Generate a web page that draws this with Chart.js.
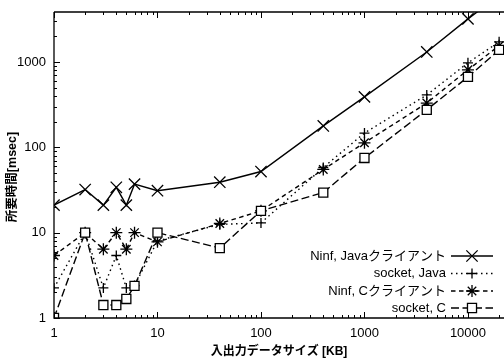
<!DOCTYPE html>
<html>
<head>
<meta charset="utf-8">
<script src="https://cdn.jsdelivr.net/npm/chart.js@4/dist/chart.umd.min.js"></script>
<style>
html,body{margin:0;padding:0;background:#fff;}
canvas{display:block;}
</style>
</head>
<body>
<canvas id="c" width="504" height="362"></canvas>
<script>
// ---- data ----
const sizesKB    = [1, 2, 3, 4, 5, 6, 10, 40, 100, 400, 1000, 4000, 10000, 20000];
const ninfJava   = [21, 32, 21, 34, 21, 37, 31, 39, 52, 178, 390, 1310, 3200, 6000];
const socketJava = [2.25, 10, 2.25, 5.4, 2.25, 2.4, 8, 12.5, 13, 58, 147, 411, 977, 1720];
const ninfC      = [5.4, 10, 6.4, 10, 6.4, 10, 7.8, 12.8, 18, 55, 113, 330, 810, 1550];
const socketC    = [1, 10, 1.42, 1.42, 1.67, 2.38, 10, 6.6, 18, 29.5, 75, 275, 668, 1385];
const seriesNames = ['Ninf, Javaクライアント', 'socket, Java', 'Ninf, Cクライアント', 'socket, C'];
const xTickValues = [1, 10, 100, 1000, 10000];
const yTickValues = [1, 10, 100, 1000];
const xTitle = '入出力データサイズ [KB]';
const yTitle = '所要時間[msec]';

const LATIN = '"Liberation Sans", "Noto Sans CJK JP", sans-serif';
const pts = arr => sizesKB.map((s, i) => ({x: s, y: arr[i]}));

function ds(label, arr, style, radius, dash, order, bg) {
  return {
    label, data: pts(arr), order,
    borderColor: '#000', borderWidth: 1.4, borderDash: dash,
    pointStyle: style, pointRadius: radius, pointHoverRadius: radius,
    pointBorderColor: '#000', pointBorderWidth: 1.3,
    pointBackgroundColor: bg || '#000',
    fill: false, tension: 0
  };
}

const datasets = [
  ds(seriesNames[0], ninfJava, 'crossRot', 8, [], 3),
  ds(seriesNames[1], socketJava, 'cross', 5, [1.5, 3.5], 2),
  ds(seriesNames[2], ninfC, 'star', 6, [4.5, 3.5], 1),
  ds(seriesNames[3], socketC, 'rect', 6.4, [8, 3.5], 0, '#fff')
];

const noPad = s => { s.paddingLeft = 0; s.paddingRight = 0; s.paddingTop = 0; s.paddingBottom = 0; };

const decor = {
  id: 'decor',
  afterDraw(chart) {
    const {ctx, chartArea: {left, right, top, bottom}, scales: {x, y}} = chart;
    ctx.save();
    ctx.strokeStyle = '#000';
    ctx.lineWidth = 1.3;
    ctx.setLineDash([]);
    ctx.beginPath();
    ctx.moveTo(left, top); ctx.lineTo(left, bottom); ctx.lineTo(right, bottom);
    ctx.moveTo(left, top); ctx.lineTo(right, top);
    ctx.stroke();
    ctx.lineWidth = 1;
    ctx.beginPath();
    for (let d = 0; d <= 5; d++) {
      for (let m = 1; m <= 9; m++) {
        const v = m * Math.pow(10, d);
        const len = m === 1 ? 6 : 3;
        if (v >= x.min && v <= x.max) {
          const px = Math.round(x.getPixelForValue(v)) + 0.5;
          ctx.moveTo(px, bottom); ctx.lineTo(px, bottom - len);
          ctx.moveTo(px, top); ctx.lineTo(px, top + len);
        }
        if (v >= y.min && v <= y.max) {
          const py = Math.round(y.getPixelForValue(v)) + 0.5;
          ctx.moveTo(left, py); ctx.lineTo(left + len, py);
        }
      }
    }
    ctx.stroke();

    // axis titles
    ctx.fillStyle = '#000';
    ctx.font = 'bold 12px ' + LATIN;
    ctx.textAlign = 'center';
    ctx.textBaseline = 'middle';
    ctx.fillText(xTitle, 279, 352);
    ctx.save();
    ctx.translate(13, 177);
    ctx.rotate(-Math.PI / 2);
    ctx.font = 'bold 12.5px ' + LATIN;
    ctx.fillText(yTitle, 0, 0);
    ctx.restore();

    // legend
    const rows = [256, 273.5, 291, 308];
    ctx.font = '13px ' + LATIN;
    ctx.textAlign = 'right';
    chart.data.datasets.forEach((d, i) => {
      const yy = rows[i];
      ctx.fillStyle = '#000';
      ctx.fillText(d.label, 446, yy);
      ctx.strokeStyle = '#000';
      ctx.lineWidth = d.borderWidth;
      ctx.setLineDash(d.borderDash);
      ctx.beginPath();
      ctx.moveTo(451, yy); ctx.lineTo(493, yy);
      ctx.stroke();
      ctx.setLineDash([]);
      ctx.lineWidth = d.pointBorderWidth;
      ctx.fillStyle = d.pointBackgroundColor;
      Chart.helpers.drawPoint(ctx, {pointStyle: d.pointStyle, radius: d.pointRadius, borderWidth: d.pointBorderWidth, rotation: 0}, 472, yy);
    });
    ctx.restore();
  }
};

new Chart(document.getElementById('c'), {
  type: 'line',
  data: {datasets},
  options: {
    responsive: false, animation: false, devicePixelRatio: 1,
    layout: {autoPadding: false, padding: {top: 12, right: 0, left: 0, bottom: 0}},
    plugins: {legend: {display: false}, tooltip: {enabled: false}},
    scales: {
      x: {
        type: 'logarithmic', min: 1, max: 22300,
        grid: {display: false, drawTicks: false}, border: {display: false},
        afterBuildTicks: s => { s.ticks = xTickValues.map(v => ({value: v})); },
        afterFit: s => { s.height = 44; noPad(s); },
        ticks: {color: '#000', font: {family: LATIN, size: 13}, padding: 8, maxRotation: 0, autoSkip: false,
                callback: v => String(v)}
      },
      y: {
        type: 'logarithmic', min: 1, max: 3850,
        grid: {display: false, drawTicks: false}, border: {display: false},
        afterBuildTicks: s => { s.ticks = yTickValues.map(v => ({value: v})); },
        afterFit: s => { s.width = 54; noPad(s); },
        ticks: {color: '#000', font: {family: LATIN, size: 13}, padding: 8, autoSkip: false,
                callback: v => String(v)}
      }
    }
  },
  plugins: [decor]
});
</script>
</body>
</html>
